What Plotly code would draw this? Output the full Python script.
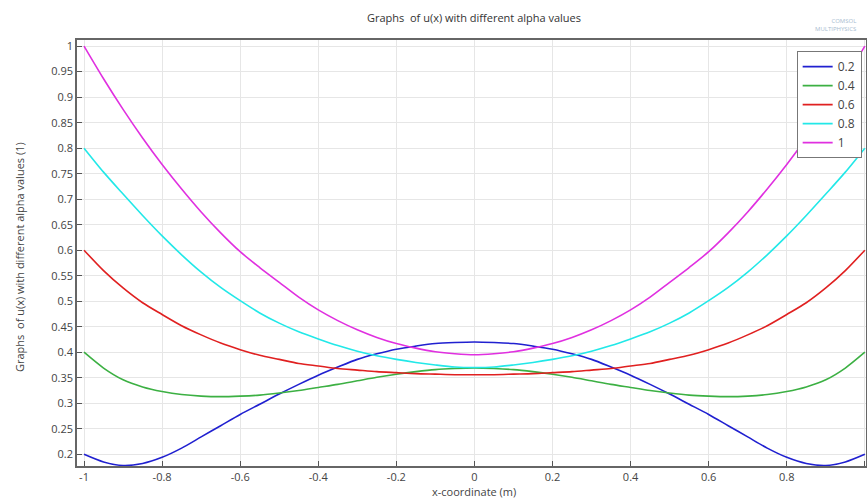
import plotly.graph_objects as go

x_vals = [-1.0, -0.95, -0.9, -0.85, -0.8, -0.75, -0.7, -0.65, -0.6, -0.55, -0.5,
          -0.45, -0.4, -0.35, -0.3, -0.25, -0.2, -0.15, -0.1, -0.05, 0.0,
          0.05, 0.1, 0.15, 0.2, 0.25, 0.3, 0.35, 0.4, 0.45, 0.5,
          0.55, 0.6, 0.65, 0.7, 0.75, 0.8, 0.85, 0.9, 0.95, 1.0]

alpha_labels = ["0.2", "0.4", "0.6", "0.8", "1"]

u_02 = [0.200, 0.185, 0.178, 0.182, 0.194, 0.212, 0.234, 0.256, 0.278, 0.298, 0.318,
        0.337, 0.355, 0.371, 0.386, 0.397, 0.406, 0.412, 0.417, 0.419, 0.420,
        0.419, 0.417, 0.412, 0.406, 0.397, 0.386, 0.371, 0.355, 0.337, 0.318,
        0.298, 0.278, 0.256, 0.234, 0.212, 0.194, 0.182, 0.178, 0.185, 0.200]
u_04 = [0.400, 0.369, 0.346, 0.332, 0.323, 0.317, 0.314, 0.313, 0.314, 0.316, 0.320,
        0.325, 0.331, 0.337, 0.344, 0.351, 0.357, 0.362, 0.366, 0.368, 0.369,
        0.368, 0.366, 0.362, 0.357, 0.351, 0.344, 0.337, 0.331, 0.325, 0.320,
        0.316, 0.314, 0.313, 0.314, 0.317, 0.323, 0.332, 0.346, 0.369, 0.400]
u_06 = [0.600, 0.560, 0.526, 0.497, 0.474, 0.452, 0.434, 0.418, 0.405, 0.394, 0.386,
        0.378, 0.373, 0.368, 0.365, 0.362, 0.360, 0.358, 0.357, 0.356, 0.356,
        0.356, 0.357, 0.358, 0.360, 0.362, 0.365, 0.368, 0.373, 0.378, 0.386,
        0.394, 0.405, 0.418, 0.434, 0.452, 0.474, 0.497, 0.526, 0.560, 0.600]
u_08 = [0.800, 0.753, 0.710, 0.668, 0.628, 0.591, 0.557, 0.527, 0.501, 0.477, 0.457,
        0.440, 0.426, 0.413, 0.402, 0.393, 0.386, 0.380, 0.375, 0.371, 0.370,
        0.371, 0.375, 0.380, 0.386, 0.393, 0.402, 0.413, 0.426, 0.440, 0.457,
        0.477, 0.501, 0.527, 0.557, 0.591, 0.628, 0.668, 0.710, 0.753, 0.800]
u_10 = [1.000, 0.936, 0.876, 0.820, 0.768, 0.720, 0.675, 0.634, 0.597, 0.566, 0.537,
        0.508, 0.483, 0.462, 0.444, 0.429, 0.417, 0.408, 0.401, 0.397, 0.395,
        0.397, 0.401, 0.408, 0.417, 0.429, 0.444, 0.462, 0.483, 0.508, 0.537,
        0.566, 0.597, 0.634, 0.675, 0.720, 0.768, 0.820, 0.876, 0.936, 1.000]

series = [u_02, u_04, u_06, u_08, u_10]
colors = ["#2020d0", "#3cb043", "#e02020", "#22e8e8", "#e030e0"]

x_ticks = [-1, -0.8, -0.6, -0.4, -0.2, 0, 0.2, 0.4, 0.6, 0.8, 1]
x_tick_text = ["-1", "-0.8", "-0.6", "-0.4", "-0.2", "0", "0.2", "0.4", "0.6", "0.8", "1"]
y_ticks = [0.2, 0.25, 0.3, 0.35, 0.4, 0.45, 0.5, 0.55, 0.6, 0.65, 0.7, 0.75, 0.8, 0.85, 0.9, 0.95, 1.0]
y_tick_text = ["0.2", "0.25", "0.3", "0.35", "0.4", "0.45", "0.5", "0.55", "0.6", "0.65",
               "0.7", "0.75", "0.8", "0.85", "0.9", "0.95", "1"]

fig = go.Figure()
for lab, ys, c in zip(alpha_labels, series, colors):
    fig.add_trace(go.Scatter(x=x_vals, y=ys, mode="lines", name=lab,
                             line=dict(color=c, width=1.6, shape="spline", smoothing=0.8)))

FIG_W, FIG_H = 867, 498
PLOT_L, PLOT_R, PLOT_T, PLOT_B = 77, 866, 40, 466
font_family = "Open Sans, DejaVu Sans, sans-serif"
fig.update_layout(
    width=FIG_W, height=FIG_H,
    margin=dict(l=PLOT_L, r=FIG_W - PLOT_R, t=PLOT_T, b=FIG_H - PLOT_B, autoexpand=False),
    paper_bgcolor="white", plot_bgcolor="white",
    font=dict(family=font_family, size=11, color="#444"),
    title=dict(text="Graphs  of u(x) with different alpha values", x=474 / FIG_W,
               xanchor="center", xref="container", yref="container",
               y=1 - 18 / FIG_H, yanchor="middle", font=dict(size=11, color="#333")),
    showlegend=True,
    legend=dict(x=0.9945, y=0.974, xanchor="right", yanchor="top",
                bgcolor="white", bordercolor="#777", borderwidth=1,
                font=dict(size=12, color="#444"), tracegroupgap=0,
                itemwidth=30),
    xaxis=dict(range=[-1.018, 1.003], tickvals=x_ticks, ticktext=x_tick_text,
               automargin=False,
               showgrid=True, gridcolor="#e6e6e6", gridwidth=1,
               showline=True, linecolor="#666", linewidth=1.5, mirror=True,
               ticks="inside", ticklen=5, tickcolor="#555",
               zeroline=False),
    yaxis=dict(range=[0.177, 1.012], tickvals=y_ticks, ticktext=y_tick_text,
               automargin=False,
               showgrid=True, gridcolor="#e6e6e6", gridwidth=1,
               showline=True, linecolor="#666", linewidth=1.5, mirror=True,
               ticks="inside", ticklen=5, tickcolor="#555",
               zeroline=False),
)

plot_w = PLOT_R - PLOT_L
plot_h = PLOT_B - PLOT_T
fig.add_annotation(text="x-coordinate (m)", xref="paper", yref="paper",
                   x=(474 - PLOT_L) / plot_w, y=(PLOT_B - 491) / plot_h, xanchor="center",
                   yanchor="middle", showarrow=False, font=dict(size=11, color="#444"))
fig.add_annotation(text="Graphs  of u(x) with different alpha values (1)", xref="paper", yref="paper",
                   x=(19 - PLOT_L) / plot_w, y=(PLOT_B - 257) / plot_h, xanchor="center",
                   yanchor="middle", textangle=-90, showarrow=False,
                   font=dict(size=11, color="#444"))
fig.add_annotation(text="COMSOL<br>MULTIPHYSICS", xref="paper", yref="paper",
                   x=0.99, y=(PLOT_B - 25) / plot_h, xanchor="right", yanchor="middle",
                   showarrow=False, font=dict(size=6, color="#a8bcd0"), align="right")

# remove the browser's default 8px page margin so the figure fills the window exactly
fig.write_html("out.html",
               config={"displayModeBar": False},
               post_script="document.body.style.margin='0';"
                           "document.documentElement.style.overflow='hidden';")
